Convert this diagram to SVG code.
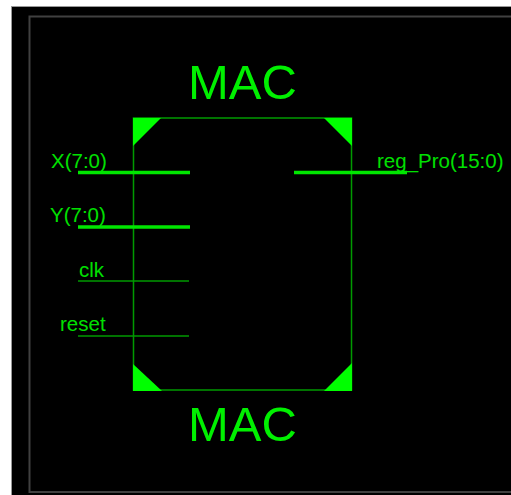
<svg xmlns="http://www.w3.org/2000/svg" width="511" height="495" viewBox="0 0 511 495">
<style>
.t{font-family:"Liberation Sans",Arial,sans-serif;fill:#00e000}
.p{font-size:20.500px}
.m{font-size:49px;fill:#00f000}
.thin{stroke:#009a00;stroke-width:1.500;fill:none}
.bus{stroke:#00e600;stroke-width:3.600;fill:none}
.c{fill:#00ff00}
</style>
<rect width="511" height="495" fill="#fff"/>
<rect x="11.500" y="6.500" width="500" height="489" fill="#000" stroke="#999" stroke-width="1"/>
<rect x="29.500" y="16.500" width="490" height="475.500" fill="none" stroke="#404040" stroke-width="2"/>
<g id="MAC">
<rect x="133.500" y="118" width="218" height="272" class="thin"/>
<polygon class="c" points="133,118 161,118 133,146"/>
<polygon class="c" points="324,118 352,118 352,146"/>
<polygon class="c" points="133,364 133,391 162,391"/>
<polygon class="c" points="352,363 352,391 324,391"/>
<text class="t m" x="242.500" y="99" text-anchor="middle">MAC</text>
<text class="t m" x="242.500" y="441" text-anchor="middle">MAC</text>
</g>
<g id="port-labels">
<text class="t p" x="51" y="168">X(7:0)</text>
<text class="t p" x="50" y="222">Y(7:0)</text>
<text class="t p" x="79" y="277">clk</text>
<text class="t p" x="60" y="331">reset</text>
<text class="t p" x="377" y="168">reg_Pro(15:0)</text>
</g>
<g id="connectors">
<line class="bus" x1="78" y1="172.500" x2="190" y2="172.500"/>
<line class="bus" x1="78" y1="227" x2="190" y2="227"/>
<line class="thin" x1="78" y1="281" x2="189" y2="281"/>
<line class="thin" x1="78" y1="336" x2="189" y2="336"/>
<line class="bus" x1="294" y1="172.500" x2="407" y2="172.500"/>
</g>
</svg>
